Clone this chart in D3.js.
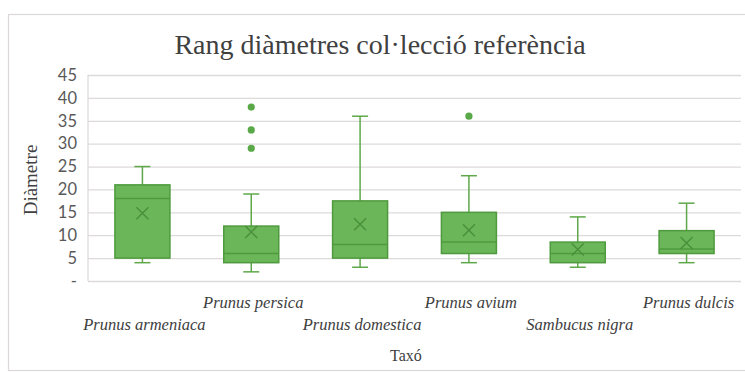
<!DOCTYPE html>
<html>
<head>
<meta charset="utf-8">
<script src="https://cdn.jsdelivr.net/npm/d3@7"></script>
<style>
  html, body { margin: 0; padding: 0; background: #fff; }
  svg { display: block; }
</style>
</head>
<body>
<svg id="chart" width="745" height="372"></svg>
<script>
// Box-plot summaries per taxon
const categories = ["Prunus armeniaca", "Prunus persica", "Prunus domestica", "Prunus avium", "Sambucus nigra", "Prunus dulcis"];
const whiskerLow  = [4, 2, 3, 4, 3, 4];
const q1          = [5, 4, 5, 6, 4, 6];
const median      = [18, 6, 8, 8.5, 6, 7];
const q3          = [21, 12, 17.5, 15, 8.5, 11];
const whiskerHigh = [25, 19, 36, 23, 14, 17];
const means       = [14.8, 10.7, 12.4, 11.1, 6.9, 8.3];
const outliers    = [[], [29, 33, 38], [], [36], [], []];
const yTicks      = [0, 5, 10, 15, 20, 25, 30, 35, 40, 45];
const yTickLabels = ["-", "5", "10", "15", "20", "25", "30", "35", "40", "45"];

const svg = d3.select("#chart");
const plot = { left: 88, right: 741, top: 75, bottom: 281 };

const fill = "#6ab659", edge = "#4f9a3e", markDark = "#4a8f3a";

// outer chart frame
svg.append("rect")
  .attr("x", 8.5).attr("y", 14.5).attr("width", 745).attr("height", 356)
  .attr("fill", "#fff").attr("stroke", "#dcd8d8").attr("stroke-width", 1.2);

const x = d3.scaleBand().domain(categories).range([plot.left, plot.right]).paddingInner(0).paddingOuter(0);
const y = d3.scaleLinear().domain([0, 45]).range([plot.bottom, plot.top]);

// gridlines and value labels
const yAxis = d3.axisLeft(y).tickValues(yTicks).tickSize(-(plot.right - plot.left))
  .tickFormat((d, i) => yTickLabels[i]);
const gy = svg.append("g").attr("transform", `translate(${plot.left},0)`).call(yAxis);
gy.select(".domain").remove();
gy.selectAll(".tick line").attr("stroke", "#dedada").attr("stroke-width", 1.3);
gy.selectAll(".tick text")
  .attr("x", -11)
  .attr("fill", "#595959")
  .style("font-family", "Lato, 'Open Sans', sans-serif")
  .style("font-size", "16.5px");

// left edge of plot area
svg.append("line")
  .attr("x1", plot.left).attr("x2", plot.left)
  .attr("y1", plot.top).attr("y2", plot.bottom)
  .attr("stroke", "#dedada").attr("stroke-width", 1.3);

const boxW = 55, capW = 16;
const g = svg.append("g");

categories.forEach((c, i) => {
  const cx = x(c) + x.bandwidth() / 2;
  // whiskers
  g.append("line").attr("x1", cx).attr("x2", cx)
    .attr("y1", y(q3[i])).attr("y2", y(whiskerHigh[i]))
    .attr("stroke", "#5ea84a").attr("stroke-width", 1.5);
  g.append("line").attr("x1", cx).attr("x2", cx)
    .attr("y1", y(q1[i])).attr("y2", y(whiskerLow[i]))
    .attr("stroke", "#5ea84a").attr("stroke-width", 1.5);
  [whiskerHigh[i], whiskerLow[i]].forEach(v => {
    g.append("line").attr("x1", cx - capW / 2).attr("x2", cx + capW / 2)
      .attr("y1", y(v)).attr("y2", y(v))
      .attr("stroke", "#5ea84a").attr("stroke-width", 1.5);
  });
  // box
  g.append("rect")
    .attr("x", cx - boxW / 2).attr("width", boxW)
    .attr("y", y(q3[i])).attr("height", y(q1[i]) - y(q3[i]))
    .attr("fill", fill).attr("stroke", edge).attr("stroke-width", 1.5);
  // median
  g.append("line").attr("x1", cx - boxW / 2).attr("x2", cx + boxW / 2)
    .attr("y1", y(median[i])).attr("y2", y(median[i]))
    .attr("stroke", edge).attr("stroke-width", 1.5);
  // mean marker
  const my = y(means[i]), s = 6;
  g.append("path")
    .attr("d", `M${cx - s},${my - s}L${cx + s},${my + s}M${cx - s},${my + s}L${cx + s},${my - s}`)
    .attr("stroke", markDark).attr("stroke-width", 1.4).attr("fill", "none");
  // outliers
  outliers[i].forEach(v => {
    g.append("circle").attr("cx", cx).attr("cy", y(v)).attr("r", 3.6).attr("fill", "#5aa948");
  });
});

// category labels, staggered in two rows
svg.append("g").selectAll("text").data(categories).join("text")
  .attr("x", d => x(d) + x.bandwidth() / 2 + 2)
  .attr("y", (d, i) => i % 2 === 0 ? 330 : 308)
  .attr("text-anchor", "middle")
  .attr("fill", "#404040")
  .style("font-family", "'Liberation Serif', 'Times New Roman', serif")
  .style("font-style", "italic")
  .style("font-size", "16.5px")
  .text(d => d);

// title
svg.append("text")
  .attr("x", 380).attr("y", 54)
  .attr("text-anchor", "middle")
  .attr("fill", "#404040")
  .style("font-family", "'Liberation Serif', 'Times New Roman', serif")
  .style("font-size", "28px")
  .text("Rang diàmetres col·lecció referència");

// axis titles
svg.append("text")
  .attr("x", 406).attr("y", 361)
  .attr("text-anchor", "middle")
  .attr("fill", "#404040")
  .style("font-family", "'Liberation Serif', 'Times New Roman', serif")
  .style("font-size", "16px")
  .text("Taxó");

svg.append("text")
  .attr("transform", "translate(37,180) rotate(-90)")
  .attr("text-anchor", "middle")
  .attr("fill", "#404040")
  .style("font-family", "'Liberation Serif', 'Times New Roman', serif")
  .style("font-size", "19px")
  .text("Diàmetre");
</script>
</body>
</html>
